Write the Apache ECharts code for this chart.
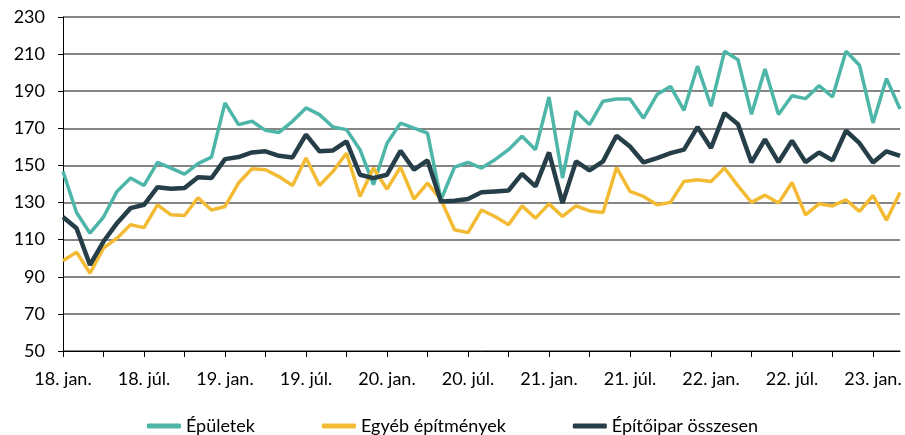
<!DOCTYPE html>
<html>
<head>
<meta charset="utf-8">
<script src="https://cdn.jsdelivr.net/npm/echarts@6/dist/echarts.min.js"></script>
<style>
  html, body { margin: 0; padding: 0; background: #fff; }
  #chart { width: 905px; height: 435px; }
</style>
</head>
<body>
<div id="chart"></div>
<script>
// havi adatok, 2018. jan. - 2023. márc.
var years = ['18', '19', '20', '21', '22', '23']
var monthNames = ['jan.', 'febr.', 'márc.', 'ápr.', 'máj.', 'jún.', 'júl.', 'aug.', 'szept.', 'okt.', 'nov.', 'dec.']
var monthCount = 63

var epuletek = [
  146.8, 124.6, 113.5, 122.2, 136, 143.2, 139.2, 151.6, 148.6, 145.3, 151,
  154.5, 183.7, 172, 173.8, 168.9, 167.8, 173.8, 181, 177.4, 170.7, 169.3,
  158.5, 139.6, 162, 172.8, 170.1, 167.4, 131.5, 149.1, 151.6, 148.6, 153.1,
  158.5, 165.7, 158.5, 186.9, 143.2, 179.2, 172, 184.6, 185.8, 185.8, 175.5,
  188.2, 192.6, 179.7, 203.5, 181.9, 211.5, 207, 177.6, 202, 177.4, 187.6,
  186, 193, 186.9, 211.5, 204, 172.9, 196.8, 180.4
]
var egyeb = [
  98.6, 103.3, 91.9, 105.4, 110.8, 118, 116.5, 128.8, 123.4, 123, 132.6,
  126, 127.9, 140.5, 148.2, 147.7, 144, 139.2, 154, 139.2, 146.8, 156.6,
  133.3, 148.6, 137.2, 149.1, 131.9, 140.5, 131.5, 115.3, 113.8, 126, 122.5,
  118, 128.2, 121.6, 129.3, 122.5, 128.2, 125.5, 124.6, 148.9, 136, 133.3,
  128.8, 130.1, 141.4, 142.3, 141.4, 148.6, 139, 130.1, 134, 129.7, 140.8,
  123.4, 129.3, 128.2, 131.5, 125.2, 133.8, 120.5, 135.4
]
var osszesen = [
  122.2, 116.2, 96.4, 109, 118.9, 127, 128.8, 138.3, 137.4, 137.8, 143.7,
  143.2, 153.4, 154.5, 157, 157.6, 155.2, 154.3, 166.6, 157.6, 158.1, 163,
  145, 143.2, 145, 157.9, 147.7, 152.7, 130.6, 131, 131.9, 135.5, 136,
  136.5, 145.5, 138.7, 157, 129.7, 152.2, 147.4, 152.2, 166, 160.2, 151.6,
  154, 156.6, 158.5, 170.7, 159.4, 178.2, 172.2, 151.6, 164, 151.8, 163.3,
  151.8, 157, 152.7, 168.7, 162, 151.6, 157.6, 155.2
]

var categories = []
for (var i = 0; i < monthCount; i++) {
  categories.push(years[Math.floor(i / 12)] + '. ' + monthNames[i % 12])
}

var font = 'Lato, sans-serif'

var chart = echarts.init(document.getElementById('chart'), null, { renderer: 'canvas' })
chart.setOption({
  animation: false,
  textStyle: { fontFamily: font },
  grid: { left: 63, right: 5, top: 17, bottom: 84 },
  legend: {
    top: 412,
    left: 'center',
    icon: 'roundRect',
    itemWidth: 34,
    itemHeight: 5,
    itemGap: 67,
    textStyle: { color: '#000', fontSize: 18, fontFamily: font },
    data: ['Épületek', 'Egyéb építmények', 'Építőipar összesen']
  },
  xAxis: {
    type: 'category',
    boundaryGap: false,
    data: categories,
    axisLine: { lineStyle: { color: '#000', width: 1 } },
    axisTick: { interval: 2, length: 6, lineStyle: { color: '#000' } },
    axisLabel: { interval: 5, color: '#000', fontSize: 18, margin: 19, fontFamily: font },
    splitLine: { show: false }
  },
  yAxis: {
    type: 'value',
    min: 50,
    max: 230,
    interval: 20,
    axisLine: { show: true, lineStyle: { color: '#000', width: 1 } },
    axisTick: { show: true, length: 5, lineStyle: { color: '#000' } },
    axisLabel: { color: '#000', fontSize: 18, margin: 18, fontFamily: font },
    splitLine: { lineStyle: { color: '#858585', width: 2 } }
  },
  series: [
    {
      name: 'Épületek',
      type: 'line',
      data: epuletek,
      symbol: 'none',
      itemStyle: { color: '#4db6a8' },
      lineStyle: { color: '#4db6a8', width: 3.5 }
    },
    {
      name: 'Egyéb építmények',
      type: 'line',
      data: egyeb,
      symbol: 'none',
      itemStyle: { color: '#f3bb33' },
      lineStyle: { color: '#f3bb33', width: 3.5 }
    },
    {
      name: 'Építőipar összesen',
      type: 'line',
      data: osszesen,
      symbol: 'none',
      itemStyle: { color: '#263e48' },
      lineStyle: { color: '#263e48', width: 4.5 }
    }
  ]
})
</script>
</body>
</html>
